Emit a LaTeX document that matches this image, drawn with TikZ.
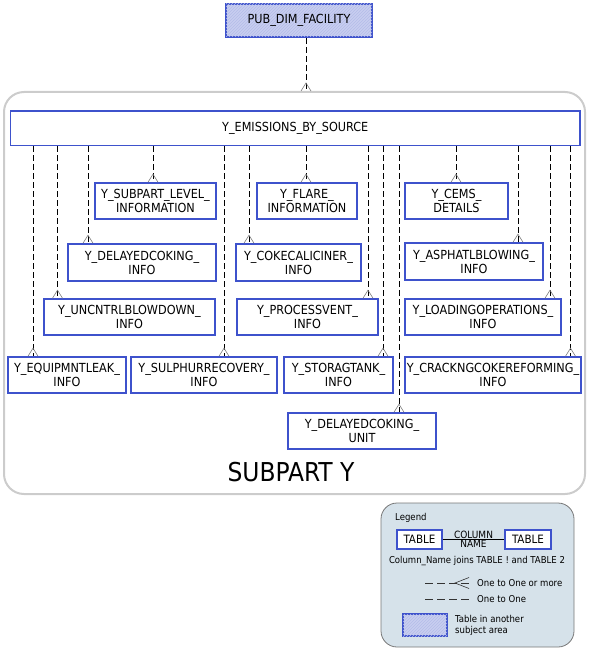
\documentclass[tikz,border=0pt]{standalone}
\usepackage{fontspec}
\setmainfont{DejaVu Sans Condensed}
\usetikzlibrary{calc,patterns}
\definecolor{tblue}{RGB}{62,82,204}
\definecolor{lav}{RGB}{200,206,240}
\definecolor{lavline}{RGB}{180,188,232}
\definecolor{contgray}{RGB}{204,204,204}
\definecolor{legfill}{RGB}{214,226,234}
\definecolor{legdraw}{RGB}{120,120,120}
\newcommand\crowconn[3]{%
  \draw[rel] (#2.south -| #1) -- (#3.north -| #1);
  \draw[foot] ($(#3.north -| #1)+(-5,0)$) -- ($(#3.north -| #1)+(0,-8)$) -- ($(#3.north -| #1)+(5,0)$);
}
\begin{document}
\begin{tikzpicture}[x=1pt,y=-1pt,
  tbl/.style={draw=tblue, line width=1.6pt, fill=white, align=center, inner sep=0pt,
    font=\fontsize{12.5}{14}\selectfont, minimum height=36pt},
  hatched/.style={fill=lav, postaction={pattern=north east lines, pattern color=lavline}},
  rel/.style={dash pattern=on 6pt off 3pt, line width=0.7pt},
  foot/.style={draw=gray, line width=0.6pt},
  container/.style={draw=contgray, line width=2pt, rounded corners=20pt, inner sep=0pt},
  legtxt/.style={font=\fontsize{9.5}{11}\selectfont, inner sep=0pt},
  ltbl/.style={draw=tblue, line width=1.5pt, fill=white, inner sep=0pt, minimum height=19pt,
    font=\fontsize{11.5}{12}\selectfont},
  lrel/.style={dash pattern=on 8pt off 4pt, line width=0.6pt, draw=black!80}
]
\useasboundingbox (0,0) rectangle (590,650);

% container
\node[container, minimum width=581pt, minimum height=402pt] (cont) at (294.5,293) {};
\node[font=\fontsize{26}{30}\selectfont, inner sep=0pt] (sub) at (291,472) {SUBPART Y};

% tables
\node[tbl, hatched, minimum width=146pt, minimum height=33pt] (pub) at (299,20.5) {PUB\_DIM\_FACILITY};
\node[tbl, minimum width=569.5pt, minimum height=34.5pt] (emis) at (295.25,128.25) {Y\_EMISSIONS\_BY\_SOURCE};

\node[tbl, minimum width=121pt] (subpart) at (155.5,201) {Y\_SUBPART\_LEVEL\_\\INFORMATION};
\node[tbl, minimum width=100pt] (flare) at (307,201) {Y\_FLARE\_\\INFORMATION};
\node[tbl, minimum width=103pt] (cems) at (456.5,201) {Y\_CEMS\_\\DETAILS};

\node[tbl, minimum width=148pt, minimum height=37pt] (delayed) at (142,262.5) {Y\_DELAYEDCOKING\_\\INFO};
\node[tbl, minimum width=125pt, minimum height=37pt] (coke) at (298.5,262.5) {Y\_COKECALICINER\_\\INFO};
\node[tbl, minimum width=138pt, minimum height=37pt] (asph) at (474,261.5) {Y\_ASPHATLBLOWING\_\\INFO};

\node[tbl, minimum width=171pt] (uncntrl) at (129.5,317) {Y\_UNCNTRLBLOWDOWN\_\\INFO};
\node[tbl, minimum width=141pt] (procvent) at (307.5,317) {Y\_PROCESSVENT\_\\INFO};
\node[tbl, minimum width=156pt] (loading) at (483,317) {Y\_LOADINGOPERATIONS\_\\INFO};

\node[tbl, minimum width=118pt] (equip) at (67,375) {Y\_EQUIPMNTLEAK\_\\INFO};
\node[tbl, minimum width=146pt] (sulph) at (204,375) {Y\_SULPHURRECOVERY\_\\INFO};
\node[tbl, minimum width=109pt] (storag) at (338.5,375) {Y\_STORAGTANK\_\\INFO};
\node[tbl, minimum width=176pt] (crack) at (493,375) {Y\_CRACKNGCOKEREFORMING\_\\INFO};

\node[tbl, minimum width=148pt] (unit) at (362,431) {Y\_DELAYEDCOKING\_\\UNIT};

% connector x positions
\coordinate (k0) at (306,0);
\coordinate (k1) at (33,0);
\coordinate (k2) at (57.5,0);
\coordinate (k3) at (88,0);
\coordinate (k4) at (153,0);
\coordinate (k5) at (224,0);
\coordinate (k6) at (249,0);
\coordinate (k7) at (306,0);
\coordinate (k8) at (368,0);
\coordinate (k9) at (383,0);
\coordinate (k10) at (399,0);
\coordinate (k11) at (456,0);
\coordinate (k12) at (518,0);
\coordinate (k13) at (550,0);
\coordinate (k14) at (570.5,0);

\crowconn{k0}{pub}{cont}
\crowconn{k1}{emis}{equip}
\crowconn{k2}{emis}{uncntrl}
\crowconn{k3}{emis}{delayed}
\crowconn{k4}{emis}{subpart}
\crowconn{k5}{emis}{sulph}
\crowconn{k6}{emis}{coke}
\crowconn{k7}{emis}{flare}
\crowconn{k8}{emis}{procvent}
\crowconn{k9}{emis}{storag}
\crowconn{k10}{emis}{unit}
\crowconn{k11}{emis}{cems}
\crowconn{k12}{emis}{asph}
\crowconn{k13}{emis}{loading}
\crowconn{k14}{emis}{crack}

% legend
\node[draw=legdraw, fill=legfill, line width=0.8pt, rounded corners=16pt, minimum width=193pt, minimum height=144pt, inner sep=0pt] (leg) at (477.5,575) {};
\node[legtxt, anchor=west] (legt) at (395,518) {Legend};
\node[ltbl, minimum width=45pt] (lt1) at (419.5,539.5) {TABLE};
\node[ltbl, minimum width=46pt] (lt2) at (528,539.5) {TABLE};
\draw[line width=0.6pt] (lt1.east) -- (lt2.west);
\node[legtxt, anchor=south, inner sep=1pt, font=\fontsize{10}{11}\selectfont] (colt) at (473.5,539.5) {COLUMN};
\node[legtxt, anchor=north, inner sep=1pt, font=\fontsize{10}{11}\selectfont] (namet) at (473.5,539.5) {NAME};
\node[legtxt] (joins) at (477,561) {Column\_Name joins TABLE ! and TABLE 2};

\coordinate (la1) at (425,583);
\coordinate (la2) at (469,583);
\draw[lrel] (la1) -- (la2);
\draw[line width=0.6pt, draw=black!80] ($(la2)+(0,-5.5)$) -- ($(la2)+(-14,0)$) -- ($(la2)+(0,5.5)$);
\node[legtxt, anchor=west] (one1) at (477,583) {One to One or more};
\coordinate (la3) at (425,599);
\coordinate (la4) at (469,599);
\draw[lrel] (la3) -- (la4);
\node[legtxt, anchor=west] (one2) at (477,599) {One to One};

\node[draw=tblue, line width=1.5pt, hatched, minimum width=44pt, minimum height=22pt, inner sep=0pt] (lhat) at (425,625) {};
\node[legtxt, anchor=west, align=left] (lhtxt) at (455,625.5) {Table in another\\subject area};
\end{tikzpicture}
\end{document}
